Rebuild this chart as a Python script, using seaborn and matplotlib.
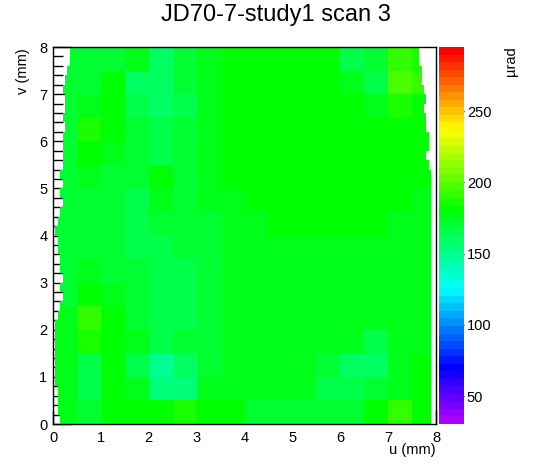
import colorsys
import numpy as np
import matplotlib
matplotlib.use("Agg")
import matplotlib.pyplot as plt
from matplotlib.colors import ListedColormap
import seaborn as sns

sns.set_theme(style="white")
plt.rcParams['font.family'] = ['Liberation Sans', 'DejaVu Sans']

# ---------------- data ----------------
title = "JD70-7-study1 scan 3"
x_label = "u (mm)"
y_label = "v (mm)"
z_label = "µrad"
axis_ticks = [0, 1, 2, 3, 4, 5, 6, 7, 8]
cbar_ticks = [50, 100, 150, 200, 250]
z_min, z_max = 30.4, 295.0

# mean deflection (µrad) in 0.5 mm x 0.5 mm cells, rows listed from v=8 (top) to v=0 (bottom)
# columns: u = 0-0.5, 0.5-1, ..., 7.5-8
rows_top_to_bottom = [
    [170, 170, 170, 176, 160, 170, 176, 181, 181, 181, 181, 181, 165, 170, 192, 186],  # 7.5-8
    [170, 170, 181, 160, 160, 170, 176, 181, 181, 181, 181, 181, 176, 165, 197, 192],  # 7-7.5
    [170, 176, 181, 165, 160, 165, 176, 181, 181, 181, 181, 181, 181, 176, 186, 181],  # 6.5-7
    [170, 186, 181, 170, 165, 170, 176, 181, 181, 181, 181, 181, 181, 181, 181, 181],  # 6-6.5
    [170, 181, 176, 170, 165, 170, 176, 181, 181, 181, 181, 181, 181, 181, 181, 181],  # 5.5-6
    [170, 176, 170, 170, 181, 170, 176, 181, 181, 181, 181, 181, 181, 181, 181, 181],  # 5-5.5
    [170, 170, 170, 165, 176, 170, 176, 176, 181, 181, 181, 181, 181, 181, 181, 176],  # 4.5-5
    [170, 170, 170, 165, 170, 170, 170, 176, 176, 181, 181, 181, 181, 181, 176, 176],  # 4-4.5
    [170, 170, 170, 165, 165, 170, 170, 176, 176, 176, 176, 176, 176, 176, 176, 176],  # 3.5-4
    [170, 176, 170, 170, 165, 165, 170, 176, 176, 176, 176, 176, 176, 176, 176, 176],  # 3-3.5
    [170, 181, 176, 170, 165, 165, 170, 176, 176, 176, 176, 176, 176, 176, 176, 176],  # 2.5-3
    [176, 192, 181, 170, 165, 165, 170, 176, 176, 176, 176, 176, 176, 176, 176, 176],  # 2-2.5
    [176, 186, 181, 176, 165, 170, 170, 176, 176, 176, 176, 176, 176, 165, 176, 176],  # 1.5-2
    [176, 165, 181, 165, 150, 160, 170, 176, 176, 176, 176, 170, 160, 160, 176, 181],  # 1-1.5
    [176, 165, 181, 176, 155, 155, 176, 176, 176, 176, 176, 165, 165, 170, 176, 181],  # 0.5-1
    [176, 170, 181, 181, 181, 186, 181, 181, 170, 170, 170, 170, 170, 181, 192, 181],  # 0-0.5
]

# scanned area edges (mm) per 0.2 mm strip of v, from v=0 upward
left_edge = [0.13, 0.12, 0.10, 0.08, 0.06, 0.07, 0.05, 0.04, 0.05, 0.03,
             0.06, 0.09, 0.14, 0.19, 0.16, 0.20, 0.17, 0.14, 0.12, 0.08,
             0.07, 0.10, 0.15, 0.18, 0.17, 0.21, 0.15, 0.19, 0.22, 0.18,
             0.22, 0.25, 0.20, 0.24, 0.27, 0.22, 0.26, 0.30, 0.35, 0.35]
right_edge = [7.92] * 27 + [7.84, 7.82, 7.85, 7.83, 7.80,
                            7.79, 7.77, 7.78, 7.76,
                            7.70, 7.68, 7.66, 7.66]

# ---------------- build histogram ----------------
cell = 0.5
fine = 0.05
rep = int(round(cell / fine))
coarse = np.array(rows_top_to_bottom[::-1], dtype=float)  # row 0 = bottom
hist = np.repeat(np.repeat(coarse, rep, axis=0), rep, axis=1)
n = hist.shape[0]
centers = (np.arange(n) + 0.5) * fine
strip = np.minimum((centers / 0.2).astype(int), len(left_edge) - 1)
L = np.array(left_edge)[strip][:, None]
R = np.array(right_edge)[strip][:, None]
mask = (centers[None, :] < L) | (centers[None, :] > R)

# ROOT "pretty" palette: 50 HLS colours, hue 280 -> 0
ncol = 50
cols = [colorsys.hls_to_rgb((280.0 * (1 - i / (ncol - 1))) / 360.0, 0.5, 1.0) for i in range(ncol)]
cmap = ListedColormap(cols)

# ---------------- figure ----------------
W, H = 546, 472
fig = plt.figure(figsize=(W / 100, H / 100), dpi=100)
fig.patch.set_facecolor("white")
ax = fig.add_axes([53 / W, 1 - 424 / H, (436 - 53) / W, (424 - 47) / H])
cax = fig.add_axes([439 / W, 1 - 424 / H, 25 / W, (424 - 47) / H])

sns.heatmap(hist, mask=mask, cmap=cmap, vmin=z_min, vmax=z_max, ax=ax,
            cbar_ax=cax, xticklabels=False, yticklabels=False, rasterized=True)

ax.set_xlim(0, n)
ax.set_ylim(0, n)
scale = 1 / fine
ax.set_xticks([t * scale for t in axis_ticks])
ax.set_xticklabels([str(t) for t in axis_ticks])
ax.set_yticks([t * scale for t in axis_ticks])
ax.set_yticklabels([str(t) for t in axis_ticks])
ax.set_xticks(np.arange(0, n + 1, 4), minor=True)
ax.set_yticks(np.arange(0, n + 1, 4), minor=True)
ax.tick_params(axis='both', which='both', direction='in', color='black',
               bottom=True, left=True, top=False, right=False,
               labelsize=10.5, labelcolor='black', width=1)
ax.tick_params(axis='x', which='major', length=10, pad=5)
ax.tick_params(axis='x', which='minor', length=6)
ax.tick_params(axis='y', which='major', length=13, pad=4)
ax.tick_params(axis='y', which='minor', length=7)
for s in ax.spines.values():
    s.set_visible(True)
    s.set_color('black')
    s.set_linewidth(1)
ax.set_xlabel("")
ax.set_ylabel("")

cbar = ax.collections[0].colorbar
cbar.outline.set_visible(False)
cbar.set_ticks(cbar_ticks)
cbar.set_ticklabels([str(t) for t in cbar_ticks])
cax.tick_params(axis='y', which='major', direction='in', length=14, width=1,
                color='black', right=True, left=False, labelsize=10.5, pad=2,
                labelcolor='black')
cax.minorticks_off()

fig.text(276 / W, 1 - 15 / H, title, ha='center', va='center', fontsize=17, color='black')
fig.text(436 / W, 1 - 450 / H, x_label, ha='right', va='center', fontsize=10.5, color='black')
fig.text(23 / W, 1 - 48 / H, y_label, ha='center', va='top', rotation=90, fontsize=10.5, color='black')
fig.text(511 / W, 1 - 46 / H, z_label, ha='center', va='top', rotation=90, fontsize=10.5, color='black')

fig.savefig("out.png", dpi=100, facecolor="white")
